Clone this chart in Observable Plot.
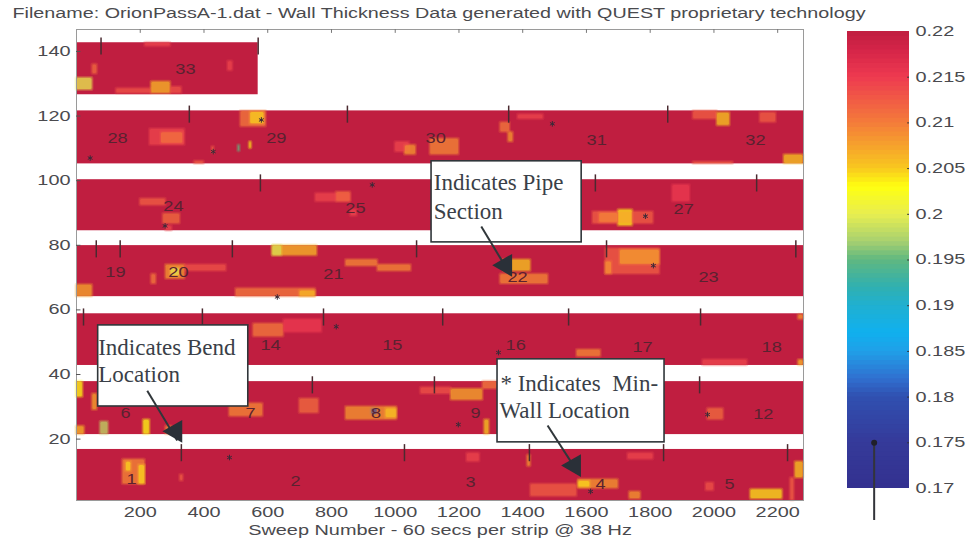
<!DOCTYPE html>
<html><head><meta charset="utf-8">
<script src="https://cdn.jsdelivr.net/npm/d3@7"></script>
<script src="https://cdn.jsdelivr.net/npm/@observablehq/plot@0.6"></script>
<style>
html,body{margin:0;padding:0;background:#fff;width:969px;height:539px;overflow:hidden}
#wrap{position:relative;width:969px;height:539px}
#main,#bar{position:absolute;left:0;top:0}
#main>svg,#bar>svg{background:transparent}
</style></head><body><div id="wrap"><div id="main"></div><div id="bar"></div></div>
<script>
const titleText = "Filename: OrionPassA-1.dat - Wall Thickness Data generated with QUEST proprietary technology";
const xLabel = "Sweep Number - 60 secs per strip @ 38 Hz";
const xTicks = [200,400,600,800,1000,1200,1400,1600,1800,2000,2200];
const yTicks = [20,40,60,80,100,120,140];
const barTicks = [0.17,0.175,0.18,0.185,0.19,0.195,0.2,0.205,0.21,0.215,0.22];
const colorStops = [0.17,0.175,0.18,0.182,0.185,0.187,0.19,0.192,0.195,0.197,0.2,0.203,0.205,0.21,0.215,0.218,0.22];
const colorRange = ["#33308f","#353a9a","#3050b0","#3070d0","#20a0e8","#10b0ee","#20b0d0","#30b0b0","#60b880","#a8d070","#e8ee50","#ffff10","#f8c81f","#f47b3a","#ee3a50","#d42448","#c01e40"];

// strips: [x1, x2, y1, y2, wall thickness]
const strips = [
  [0,570,126.6,142.7,0.22],[0,2281,105.2,121.6,0.22],[0,2281,84.5,100.3,0.22],
  [0,2281,64.1,79.9,0.22],[0,2281,42.8,58.8,0.22],[0,2281,21.4,37.8,0.22],[0,2281,0.8,16.8,0.22]];

const hotRow1 = [[0,50,128.1,131.8,0.2],[50,65,133,136,0.211],[125,235,127,128.5,0.213],[235,295,127,130.6,0.206],[295,330,127,129,0.213],[215,295,141.5,142.7,0.214],[475,490,134,137,0.214]];
const hotRow2 = [[515,595,116.7,121.6,0.21],[545,590,117.5,121.3,0.204],[230,340,111,116,0.214],[265,335,111.4,115,0.21],[1000,1045,108.9,112,0.214],[1030,1065,108,111,0.208],[1110,1200,108,113,0.209],[1330,1360,115,118,0.21],[1355,1370,112,115,0.208],[1385,1465,119,120.5,0.214],[1935,2010,119,121.6,0.212],[2010,2050,117,121,0.205],[2145,2195,118,121,0.212],[2220,2281,105.2,108,0.205],[1935,2060,105.2,105.8,0.212],[507,513,109,111,0.195],[543,549,110,112,0.203],[425,432,108.5,110.5,0.212],[370,400,105.2,106,0.212]];
const hotRow3 = [[200,280,92.3,94.4,0.212],[272,325,86.7,89.8,0.211],[750,860,93.5,96,0.214],[815,860,93.5,96.5,0.211],[1620,1810,86.7,90.4,0.212],[1640,1700,87,90,0.209],[1700,1745,86,91,0.204],[1870,1925,93.5,98.7,0.215],[860,880,89,91,0.214],[280,300,84.5,86,0.214]];
const hotRow4 = [[615,755,76.8,79.9,0.206],[615,645,76.8,79.9,0.199],[845,945,73.5,75.5,0.209],[945,1050,72,74,0.209],[0,50,64.1,67.8,0.207],[280,340,69.6,74,0.208],[295,325,70.5,73,0.2],[235,250,68,71,0.21],[340,470,72,74,0.213],[500,750,64.1,66.6,0.21],[700,750,64.1,66,0.205],[1340,1425,72,75.5,0.205],[1330,1480,68,71,0.209],[1660,1830,71,79,0.212],[1705,1830,74,78.6,0.207],[1660,1680,71,75,0.208]];
const hotRow5 = [[555,650,51.7,55.7,0.21],[650,770,53,57,0.215],[1570,1645,45.5,47.7,0.209],[1965,2105,42.8,44.6,0.214],[2265,2281,57,58.5,0.208],[2265,2281,42.8,44.5,0.206]];
const hotRow6 = [[0,20,33,37.8,0.203],[50,65,29,34,0.207],[0,25,21.4,24,0.206],[75,100,21.4,25.4,0.198],[210,230,21.4,26,0.203],[280,300,21.4,24,0.209],[480,585,27,31,0.209],[700,760,28,32.5,0.211],[845,1005,26,30,0.208],[970,1005,26.5,29.5,0.205],[925,945,27.5,29.5,0.178],[1080,1175,34,36,0.213],[1175,1275,32,35.5,0.207],[1275,1320,35.5,37.8,0.21],[1280,1295,21.4,26,0.205],[1980,2030,26,29.5,0.211]];
const hotRow7 = [[145,215,6,13.7,0.209],[155,172,10,13,0.204],[195,215,6,12,0.204],[325,335,7,9,0.212],[1575,1700,4.7,7.5,0.208],[1575,1612,5,7,0.204],[1425,1570,2.2,6,0.212],[2115,2215,1.5,4.4,0.204],[2255,2281,8,13,0.205],[2240,2252,1,8,0.212],[1975,2000,4,6.5,0.213],[1415,1425,11.5,15,0.208],[1730,1810,13.7,15.6,0.214],[1735,1770,1.5,3.7,0.208],[1225,1265,13,15.6,0.214]];
const hotSpots = [...hotRow1,...hotRow2,...hotRow3,...hotRow4,...hotRow5,...hotRow6,...hotRow7];

// pipe-section boundary ticks: [x, top of strip]
const bendTicks = [[77,142.7],[570,142.7],[354,121.6],[850,121.6],[1356,121.6],[1855,121.6],[577,100.3],[1628,100.3],[2134,100.3],[62,79.9],[137,79.9],[489,79.9],[1067,79.9],[1663,79.9],[2257,79.9],[22,58.8],[395,58.8],[775,58.8],[1149,58.8],[1544,58.8],[1958,58.8],[740,37.8],[1123,37.8],[1955,37.8],[329,16.8],[1029,16.8],[1421,16.8],[1842,16.8],[2231,16.8]];
// section number labels: [label, x, y]
const sectionLabels = [["33",342,134.5],["28",129,113],["29",627,113],["30",1127,113],["31",1632,112.5],["32",2130,112.5],["24",304,92],["25",875,91.5],["27",1905,91],["19",122,71.5],["20",320,71.5],["21",806,71],["22",1384,70],["23",1983,70],["14",609,49],["15",991,49],["16",1378,49],["17",1776,48.5],["18",2181,48.5],["6",154,28],["7",546,28],["8",940,28],["9",1252,28],["12",2155,27.5],["1",173,7.5],["2",687,7],["3",1236,6.5],["4",1644,6],["5",2049,6]];
// min-wall markers: [x, y]
const minWall = [[580,118.8],[429,109],[43,107],[1493,117.6],[928,98.7],[278,86],[630,64],[815,54.8],[480,14.3],[1198,24.5],[1785,89],[1810,73.7],[1613,3.8],[1324,46.8],[1980,27.6]];

// call-outs
const boxes = [[1114,1585,80.9,106],[68,539,30.1,55.2],[1321,1845,19,44.7]];
const boxText = [["Indicates Pipe",1121,99.5],["Section",1121,90.5],["Indicates Bend",68,48.4],["Location",68,40],["* Indicates  Min-",1330,37.2],["Wall Location",1327,28.9]];
const arrowLines = [[1270,85.8,1346,73.4],[222,35,316,19.6],[1478,24.2,1575,9.4]];
const arrowHeads = [[1346,73.8],[311,22.4],[1562,11.8]];

const colorScale = {type:"linear",domain:colorStops,range:colorRange,legend:false};
const sans = "Liberation Sans, Arial, sans-serif";
const dark = "#4a4a4e";
const spot = {x1:d=>d[0],x2:d=>d[1],y1:d=>d[2],y2:d=>d[3],fill:d=>d[4]};

const main = Plot.plot({
  width:969,height:539,marginLeft:76,marginRight:166,marginTop:29,marginBottom:39,
  style:{background:"transparent",overflow:"visible"},
  x:{domain:[0,2281]},y:{domain:[1,146.8]},color:colorScale,
  marks:[
    Plot.rect(strips,spot),
    Plot.rect(hotSpots,{...spot,inset:-1.5,rx:2,fillOpacity:0.22}),
    Plot.rect(hotSpots,{...spot,inset:-0.5,rx:2,fillOpacity:0.3}),
    Plot.rect(hotSpots,{...spot,inset:0.5,rx:1.5,fillOpacity:0.55}),
    Plot.frame({stroke:"#9a9a9a",strokeWidth:1}),
    Plot.ruleX(xTicks,{x:d=>d,y1:146.8,y2:145.6,stroke:"#777"}),
    Plot.ruleY(yTicks,{y:d=>d,x1:0,x2:14,stroke:"#555"}),
    Plot.axisX(xTicks,{anchor:"bottom",tickSize:0,tickPadding:7,fontSize:14,fontFamily:sans,fill:dark,tickFormat:d=>String(d),label:xLabel,labelAnchor:"center",labelArrow:"none",labelOffset:34}),
    Plot.axisY(yTicks,{anchor:"left",tickSize:0,tickPadding:6,fontSize:14,fontFamily:sans,fill:dark,label:null}),
    Plot.text([titleText],{frameAnchor:"top-left",dx:-64,dy:-21,text:d=>d,textAnchor:"start",fontSize:14,fontFamily:sans,fill:"#4a4a4e"}),
    Plot.ruleX(bendTicks,{x:d=>d[0],y1:d=>d[1]-3.8,y2:d=>d[1]+1.5,stroke:"#4a2a30",strokeWidth:1.5}),
    Plot.text(sectionLabels,{x:d=>d[1],y:d=>d[2],text:d=>d[0],fontSize:14,fontFamily:sans,fill:"#5a2230"}),
    Plot.dot(minWall,{x:d=>d[0],y:d=>d[1],symbol:"asterisk",r:2.6,stroke:"#3a2a38",strokeWidth:1}),
    Plot.rect(boxes,{x1:d=>d[0],x2:d=>d[1],y1:d=>d[2],y2:d=>d[3],fill:"white",stroke:"#30363a",strokeWidth:1.6}),
    Plot.text(boxText,{x:d=>d[1],y:d=>d[2],text:d=>d[0],textAnchor:"start",fontSize:23,fontFamily:"Liberation Serif",fill:"#3a3f48"}),
    Plot.link(arrowLines,{x1:d=>d[0],y1:d=>d[1],x2:d=>d[2],y2:d=>d[3],stroke:"#30363a",strokeWidth:2}),
    Plot.dot(arrowHeads,{x:d=>d[0],y:d=>d[1],symbol:"triangle",r:8.5,rotate:150,fill:"#2a3038"})
  ]
});
document.getElementById("main").append(main);

const ramp = d3.range(0.17,0.22,0.0005);
const bar = Plot.plot({
  width:969,height:539,marginLeft:847,marginRight:60,marginTop:31,marginBottom:51,
  style:{background:"transparent",overflow:"visible"},
  x:{domain:[0,1],axis:null},y:{domain:[0.17,0.22]},color:colorScale,
  marks:[
    Plot.rect(ramp,{x1:0,x2:1,y1:d=>d,y2:d=>Math.min(d+0.0009,0.22),fill:d=>d+0.00025}),
    Plot.axisY(barTicks,{anchor:"right",tickSize:0,tickPadding:6,fontSize:14,fontFamily:sans,fill:dark,label:null,tickFormat:d=>String(+d.toFixed(3))}),
    Plot.ruleY(barTicks.slice(1,-1),{y:d=>d,x1:0.97,x2:1,stroke:"#333"}),
    Plot.ruleX([0.43],{y1:0.1665,y2:0.175,stroke:"#33343a",strokeWidth:2}),
    Plot.dot([0.175],{x:0.43,y:d=>d,r:3,fill:"#20202a"})
  ]
});
document.getElementById("bar").append(bar);

// the scan is horizontally stretched: widen sans text glyphs, keeping it as real text
function stretch(root){
  root.querySelectorAll("text").forEach(t=>{
    if(getComputedStyle(t).fontFamily.includes("Serif")) return;
    const len = t.getComputedTextLength();
    if(!(len>0)) return;
    const isTitle = t.textContent === titleText;
    const isMark = !!t.closest('g[aria-label="text"]');
    const target = isTitle ? 853 : len*(isMark ? 1.3 : 1.42);
    t.setAttribute("textLength",target.toFixed(1));
    t.setAttribute("lengthAdjust","spacingAndGlyphs");
  });
}
stretch(main);
stretch(bar);
</script></body></html>
